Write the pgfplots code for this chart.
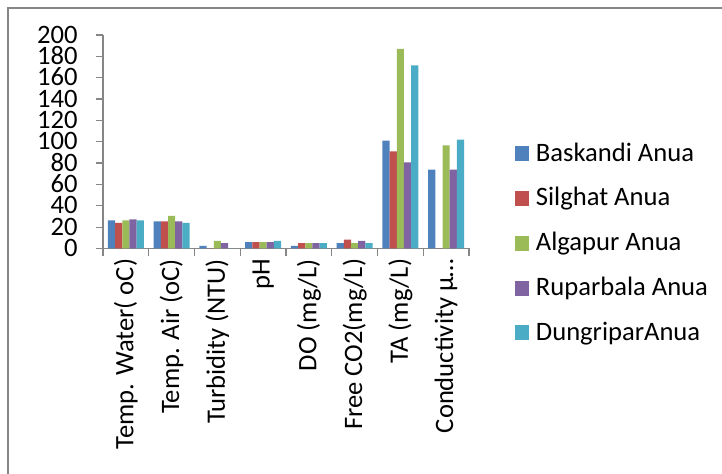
\documentclass[border=0pt]{standalone}
\usepackage{pgfplots}
\pgfplotsset{compat=1.18}
\usepackage{fontspec}
\setmainfont{Carlito}

\definecolor{cBlue}{HTML}{4F81BD}
\definecolor{cRed}{HTML}{C0504D}
\definecolor{cGreen}{HTML}{9BBB59}
\definecolor{cPurple}{HTML}{8064A2}
\definecolor{cCyan}{HTML}{4BACC6}
\definecolor{axisgray}{HTML}{868686}

\begin{document}
\begin{tikzpicture}
\useasboundingbox (0,0) rectangle (361pt,-237pt);
% outer frame (only top and left edges fall inside the page)
\draw[axisgray, line width=1pt] (4pt,-260pt) -- (4pt,-4pt) -- (380pt,-4pt);
\begin{axis}[
  at={(51.5pt,-124.25pt)}, anchor=south west,
  scale only axis,
  width=183pt, height=106.75pt,
  ybar=0pt, bar width=3.6pt,
  xmin=-0.5, xmax=7.5,
  ymin=0, ymax=200,
  ytick={0,20,...,200},
  xtick={0,...,7},
  xticklabels={Temp. Water( oC),Temp. Air (oC),Turbidity (NTU),pH,DO (mg/L),Free CO2(mg/L),TA (mg/L),Conductivity µ…},
  x tick label style={rotate=90, anchor=east, font=\fontsize{13.3}{15}\selectfont, inner sep=1.5pt},
  y tick label style={font=\fontsize{13.3}{15}\selectfont, inner xsep=1.5pt, inner ysep=0pt, text height=8.2pt, text depth=0pt, xshift=-7.5pt},
  /pgf/number format/assume math mode=true,
  major x tick style={draw=none},
  minor xtick={-0.5,0.5,...,7.5},
  minor tick length=4pt,
  major tick length=3.5pt,
  tick align=outside,
  every tick/.style={axisgray, line width=0.6pt},
  axis lines*=left,
  axis line style={axisgray, line width=0.6pt},
  separate axis lines,
  x axis line style={-},
  y axis line style={-},
  legend style={draw=none, fill=none, at={(1.108,0.02)}, anchor=west,
    font=\fontsize{13.3}{15}\selectfont,
    nodes={inner sep=0pt, text height=9.5pt, text depth=3pt, anchor=base west},
    row sep=9.9pt, column sep=3.5pt},
  legend cell align=left,
  legend image code/.code={\fill[#1] (0pt,0pt) rectangle (7pt,7.5pt);},
]
\addplot[fill=cBlue, draw=none] coordinates {(0,26.3) (1,25.3) (2,2.5) (3,6) (4,2.5) (5,5) (6,101) (7,74)};
\addplot[fill=cRed, draw=none] coordinates {(0,24) (1,25.3) (2,0) (3,6) (4,5) (5,8.4) (6,91) (7,0)};
\addplot[fill=cGreen, draw=none] coordinates {(0,26.3) (1,30.6) (2,7.2) (3,6) (4,5) (5,5) (6,187) (7,96.6)};
\addplot[fill=cPurple, draw=none] coordinates {(0,27.2) (1,25.3) (2,5) (3,6) (4,5) (5,7.2) (6,80.6) (7,74)};
\addplot[fill=cCyan, draw=none] coordinates {(0,26.3) (1,24) (2,0) (3,7.2) (4,5) (5,5) (6,171.6) (7,102)};
\legend{Baskandi Anua,Silghat Anua,Algapur Anua,Ruparbala Anua,DungriparAnua}
\end{axis}
\end{tikzpicture}
\end{document}
